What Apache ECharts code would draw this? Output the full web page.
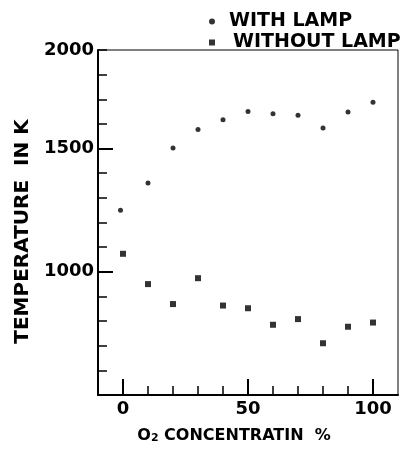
<!DOCTYPE html>
<html>
<head>
<meta charset="utf-8">
<script src="https://cdn.jsdelivr.net/npm/echarts@6/dist/echarts.min.js"></script>
<style>
  html, body { margin: 0; padding: 0; background: #fff; }
  #chart { width: 401px; height: 449px; }
</style>
</head>
<body>
<div id="chart"></div>
<script>
const oxygen = [0, 10, 20, 30, 40, 50, 60, 70, 80, 90, 100]
const oxygenWithLamp = [-1, 10, 20, 30, 40, 50, 60, 70, 80, 90, 100]
const tempWithLamp = [1250, 1360, 1502, 1577, 1617, 1650, 1641, 1635, 1583, 1648, 1688]
const tempWithoutLamp = [1073, 950, 869, 974, 863, 852, 785, 808, 710, 777, 794]

const xMinorTicks = [0, 10, 20, 30, 40, 50, 60, 70, 80, 90, 100]
const xMajorTicks = [0, 50, 100]
const yMajorTicks = [1000, 1500]
// the top edge of the frame carries the "2000" label in the original figure,
// although by the tick spacing it sits at about 1900
const yLabelValues = [1000, 1500, 1900]
const yLabelTexts = ['1000', '1500', '2000']

const FONT = 'DejaVu Sans'

const chart = echarts.init(document.getElementById('chart'))

const labelStyle = {
  fontFamily: FONT,
  fontWeight: 'bold',
  fontSize: 18,
  color: '#000',
}

chart.setOption({
  animation: false,
  backgroundColor: '#fff',
  grid: {
    left: 98,
    right: 3,
    top: 50,
    bottom: 52,
    show: true,
    borderColor: '#000',
    borderWidth: 1,
  },
  legend: {
    orient: 'vertical',
    left: 204,
    top: 7,
    itemGap: 2,
    itemWidth: 6,
    itemHeight: 6,
    textStyle: {
      fontFamily: FONT,
      fontWeight: 'bold',
      fontSize: 19,
      color: '#000',
    },
    data: [
      { name: 'WITH LAMP', icon: 'circle', textStyle: { padding: [0, 0, 0, 9] } },
      { name: 'WITHOUT LAMP', icon: 'rect', textStyle: { padding: [0, 0, 0, 13] } },
    ],
  },
  xAxis: [
    {
      type: 'value',
      min: -10,
      max: 110,
      splitLine: { show: false },
      axisLine: { onZero: false, lineStyle: { color: '#000', width: 2 } },
      axisTick: {
        inside: true,
        length: 9,
        customValues: xMinorTicks,
        lineStyle: { color: '#000', width: 1.5 },
      },
      axisLabel: {
        ...labelStyle,
        margin: 5,
        customValues: xMajorTicks,
      },
      name: '{a|O}{s|2}{a| CONCENTRATIN  %}',
      nameLocation: 'middle',
      nameGap: 32,
      nameTextStyle: {
        padding: [0, 28, 0, 0],
        rich: {
          a: { fontFamily: FONT, fontWeight: 'bold', fontSize: 16, color: '#000' },
          s: {
            fontFamily: FONT,
            fontWeight: 'bold',
            fontSize: 11,
            color: '#000',
            verticalAlign: 'bottom',
            padding: [6, 0, 0, 0],
          },
        },
      },
    },
    {
      type: 'value',
      min: -10,
      max: 110,
      position: 'bottom',
      splitLine: { show: false },
      axisLine: { show: false, onZero: false },
      axisLabel: { show: false },
      axisTick: {
        inside: true,
        length: 16,
        customValues: xMajorTicks,
        lineStyle: { color: '#000', width: 2 },
      },
    },
  ],
  yAxis: [
    {
      type: 'value',
      min: 500,
      max: 1900,
      interval: 100,
      splitLine: { show: false },
      axisLine: { onZero: false, lineStyle: { color: '#000', width: 2 } },
      axisTick: {
        inside: true,
        length: 9,
        lineStyle: { color: '#000', width: 1.5 },
      },
      axisLabel: {
        ...labelStyle,
        margin: 4,
        customValues: yLabelValues,
        formatter: (v) => yLabelTexts[yLabelValues.indexOf(v)],
      },
      name: 'TEMPERATURE  IN K',
      nameLocation: 'middle',
      nameGap: 65,
      nameTextStyle: {
        fontFamily: FONT,
        fontWeight: 'bold',
        fontSize: 20,
        color: '#000',
        padding: [0, 18, 0, 0],
      },
    },
    {
      type: 'value',
      min: 500,
      max: 1900,
      position: 'left',
      splitLine: { show: false },
      axisLine: { show: false, onZero: false },
      axisLabel: { show: false },
      axisTick: {
        inside: true,
        length: 15,
        customValues: yMajorTicks,
        lineStyle: { color: '#000', width: 2 },
      },
    },
  ],
  series: [
    {
      name: 'WITH LAMP',
      type: 'scatter',
      symbol: 'circle',
      symbolSize: 5,
      itemStyle: { color: '#000' },
      data: oxygenWithLamp.map((x, i) => [x, tempWithLamp[i]]),
    },
    {
      name: 'WITHOUT LAMP',
      type: 'scatter',
      symbol: 'rect',
      symbolSize: 6,
      itemStyle: { color: '#000' },
      data: oxygen.map((x, i) => [x, tempWithoutLamp[i]]),
    },
  ],
})
</script>
</body>
</html>
